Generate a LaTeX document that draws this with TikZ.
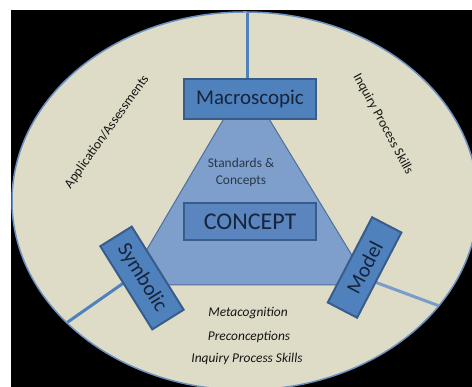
\documentclass[tikz,border=0pt]{standalone}
\usepackage{fontspec}
\setmainfont{Carlito}
\definecolor{cream}{HTML}{DEDCC6}
\definecolor{rimblue}{HTML}{6B90C0}
\definecolor{boxfill}{HTML}{4F81BD}
\definecolor{boxline}{HTML}{385D8A}
\definecolor{trifill}{HTML}{7E9FCB}
\definecolor{triline}{HTML}{4D6F9E}
\definecolor{cfill}{HTML}{5A85BF}
\definecolor{linkblue}{HTML}{4F81BD}
\definecolor{linklight}{HTML}{7A9CCB}
\definecolor{navytext}{HTML}{17243A}
\definecolor{softtext}{HTML}{2A3649}
\definecolor{outertext}{HTML}{151515}
\pgfdeclarelayer{back}
\pgfdeclarelayer{mid}
\pgfsetlayers{back,mid,main}
\begin{document}
\begin{tikzpicture}[x=1pt,y=1pt,
  ibox/.style={draw=boxline, fill=boxfill, line width=2pt, text=navytext,
    font=\fontsize{21}{25}\selectfont, inner sep=0pt},
  conn/.style={draw=linkblue, line width=3pt},
  outer/.style={text=outertext, font=\fontsize{13.4}{16}\selectfont, inner sep=0pt},
  outeri/.style={text=outertext, font=\fontsize{13.4}{16}\selectfont\itshape, inner sep=0pt}]
\useasboundingbox (0,0) rectangle (472,387);
\begin{pgfonlayer}{back}
  \fill[white] (0,0) rectangle (472,387);
  \fill[black] (11,0) rectangle (472,377);
  \begin{scope}
    \clip (11,0) rectangle (472,377);
    \filldraw[fill=cream, draw=rimblue, line width=1.5pt] (245,186) ellipse [x radius=233, y radius=189];
  \end{scope}
\end{pgfonlayer}

\filldraw[fill=trifill, draw=triline, line width=1pt] (246,306) -- (126,102) -- (370,102) -- cycle;

\node[ibox, minimum width=132pt, minimum height=40pt] (macro) at (250,288) {Macroscopic};
\node[ibox, fill=cfill, minimum width=132pt, minimum height=37pt, font=\fontsize{24}{28}\selectfont] (concept) at (250,165.5) {CONCEPT};
\node[ibox, rotate=-58, minimum width=98pt, minimum height=37pt] (symb) at (142,109) {Symbolic};
\node[ibox, rotate=62.5, minimum width=96pt, minimum height=33pt] (model) at (364.6,119.5) {Model};

\node[text=softtext, font=\fontsize{13.4}{17}\selectfont, align=center, inner sep=0pt] (std) at (241,214.5) {Standards \&\\Concepts};
\node[outer, rotate=54.5] (app) at (107,255) {Application/Assessments};
\node[outer, rotate=-61.5] (ips) at (383,263) {Inquiry Process Skills};
\node[outeri] (meta) at (248,74) {Metacognition};
\node[outeri] (pre) at (249,50) {Preconceptions};
\node[outeri] (inq) at (247,28) {Inquiry Process Skills};

\begin{pgfonlayer}{mid}
  \begin{scope}
    \clip (245,186) ellipse [x radius=232, y radius=188];
    \coordinate (topend) at (247.5,400);
    \coordinate (symstart) at ([shift={(-7,3)}]symb.center);
    \coordinate (symend) at (40,45.5);
    \coordinate (modstart) at ([shift={(-4.6,-9)}]model.center);
    \coordinate (modend) at (470,69.6);
    \draw[conn] (macro.north -| topend) -- (topend);
    \draw[conn] (symstart) -- (symend);
    \draw[conn, draw=linklight] (modstart) -- (modend);
  \end{scope}
\end{pgfonlayer}
\end{tikzpicture}
\end{document}
